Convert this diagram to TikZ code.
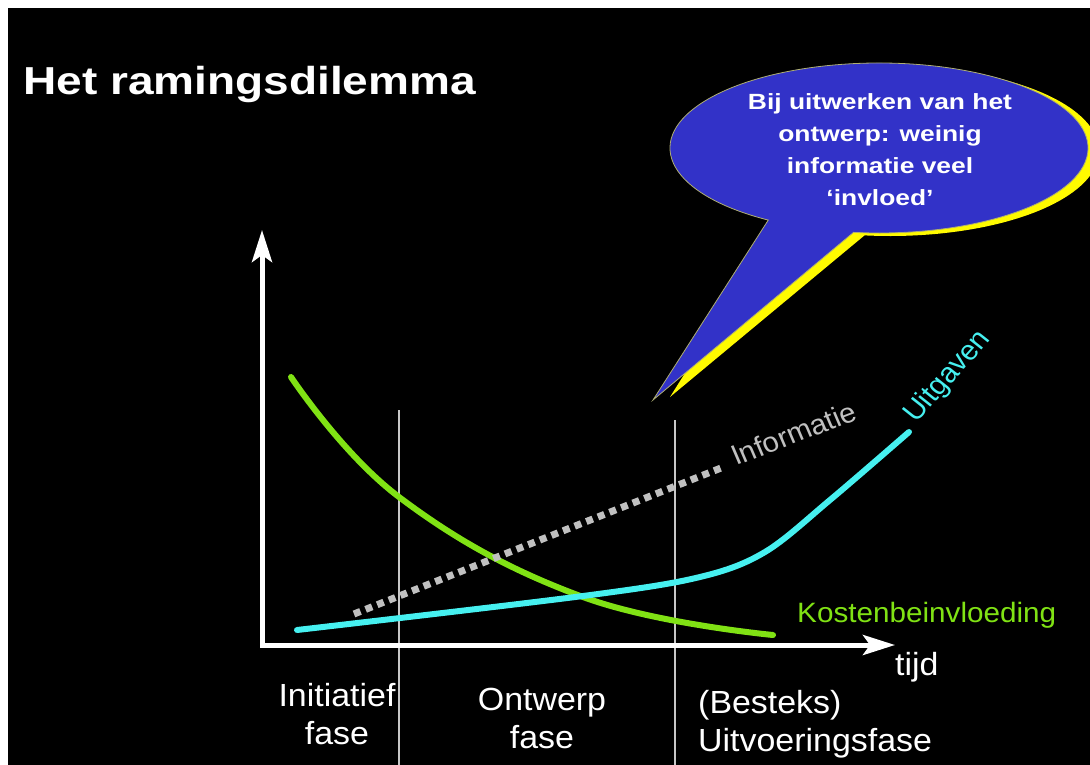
\documentclass[tikz,border=0pt]{standalone}
\usepackage{fontspec}
\setmainfont{Liberation Sans}
\usetikzlibrary{arrows.meta}
\definecolor{curveGreen}{RGB}{128,226,20}
\definecolor{curveCyan}{RGB}{70,240,240}
\definecolor{infoGrey}{RGB}{192,192,192}
\definecolor{balloonBlue}{RGB}{50,50,200}
\definecolor{balloonYellow}{RGB}{255,250,0}
\definecolor{balloonEdge}{RGB}{175,175,115}
\tikzstyle{slide} = [x=1pt, y=-1pt]
\tikzstyle{axisLine} = [white, line width=5pt, line join=miter, {Stealth[length=32pt,width=20pt,inset=7pt]}-{Stealth[length=32pt,width=20pt,inset=7pt]}]
\tikzstyle{phaseLine} = [color=white!78!black, line width=1.3pt]
\tikzstyle{curveLine} = [line width=6pt, line cap=round]
\tikzstyle{phaseText} = [text=white, font=\fontsize{32}{38}\selectfont, inner sep=0pt, xscale=1.06]
\tikzstyle{curveText} = [font=\fontsize{28}{34}\selectfont, inner sep=0pt, xscale=1.06, anchor=base west]
\tikzstyle{balloonText} = [text=white, font=\fontsize{22}{32}\selectfont\bfseries, align=center, inner sep=0pt, xscale=1.2]
\newcommand{\balloonPath}[3]{\path [#1] (#2) ++(122:209 and 85) arc [start angle=122, end angle=457, x radius=209, y radius=85] -- (#3) -- cycle;}

\begin{document}
\begin{tikzpicture}[slide]
  \useasboundingbox (0,0) rectangle (1090,765);
  \fill [white] (0,0) rectangle (1090,765);
  \fill [black] (8,8) rectangle (1090,765);

  \node [text=white, font=\fontsize{39}{44}\selectfont\bfseries, inner sep=0pt, xscale=1.18, anchor=base west] (slideTitle) at (23,95) {Het ramingsdilemma};

  \begin{scope}
    \clip (8,8) rectangle (1090,765);
    \coordinate (shadowCenter) at (890,151);
    \coordinate (shadowTip) at (670,397);
    \coordinate (balloonCenter) at (879,148);
    \coordinate (balloonTip) at (653,400);
    \balloonPath{fill=balloonYellow}{shadowCenter}{shadowTip}
    \balloonPath{fill=balloonBlue, draw=balloonEdge, line width=0.8pt}{balloonCenter}{balloonTip}
  \end{scope}
  \node [balloonText] (balloonNote) at (880,150) {Bij uitwerken van het\\ontwerp: weinig\\informatie veel\\‘invloed’};

  \draw [phaseLine] (399,410) -- (399,765);
  \draw [phaseLine] (675,420) -- (675,765);

  \coordinate (origin) at (262,645);
  \coordinate (yTip) at (262,230);
  \coordinate (xTip) at (895,645);
  \draw [axisLine] (yTip) -- (origin) -- (xTip);

  \draw [curveLine, curveGreen] plot [smooth, tension=0.7] coordinates {(291,377) (399,497) (583,597) (773,635)};
  \draw [infoGrey, line width=7pt, dash pattern=on 7pt off 5.5pt] (354,614) -- (721,468);
  \draw [curveLine, curveCyan] plot [smooth, tension=0.55] coordinates {(297,630) (583,596) (700,577) (765,552) (830,500) (909,432)};

  \node [curveText, text=infoGrey, rotate=22] (infoLabel) at (736,466) {Informatie};
  \node [curveText, text=curveCyan, rotate=50] (spendLabel) at (916,424) {Uitgaven};
  \node [curveText, text=curveGreen] (influenceLabel) at (797,622) {Kostenbeinvloeding};

  \node [phaseText, anchor=base west] (timeLabel) at (895,675) {tijd};
  \node [phaseText, align=center] (initPhase) at (337,714) {Initiatief\\fase};
  \node [phaseText, align=center] (designPhase) at (542,718) {Ontwerp\\fase};
  \node [phaseText, align=left, anchor=west] (buildPhase) at (698,724) {(Besteks)\\Uitvoeringsfase};
\end{tikzpicture}
\end{document}
